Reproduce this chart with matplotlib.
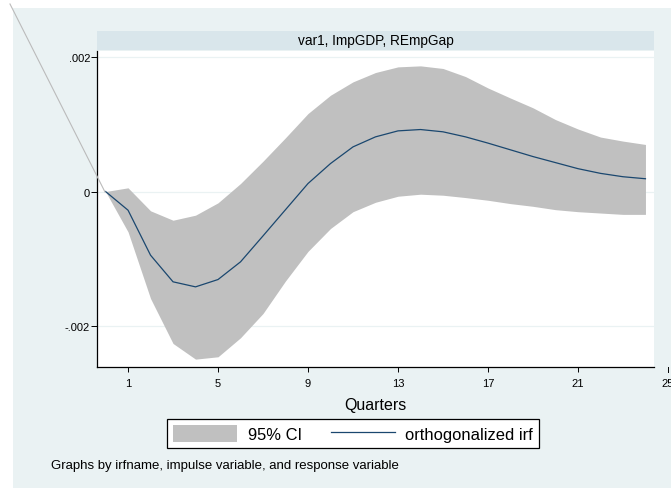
import matplotlib
matplotlib.use("Agg")
import matplotlib.pyplot as plt
from matplotlib.patches import Rectangle
from matplotlib.lines import Line2D

plt.rcParams['font.family'] = ['Liberation Sans', 'DejaVu Sans']

# Data
steps = list(range(0, 25))
irf = [0.0, -0.000278, -0.000947, -0.001343, -0.001418, -0.001309, -0.001046,
       -0.00066, -0.00027, 0.000119, 0.000416, 0.000664, 0.000813, 0.000902,
       0.000922, 0.000888, 0.000813, 0.00072, 0.00062, 0.00052, 0.00043,
       0.00034, 0.00027, 0.00022, 0.00019]
upper = [0.0, 0.000055, -0.000287, -0.000427, -0.000352, -0.000168, 0.000119,
         0.000451, 0.00080, 0.00116, 0.001432, 0.001631, 0.00177, 0.001854,
         0.001869, 0.00183, 0.00171, 0.00154, 0.00139, 0.001245, 0.00107,
         0.00093, 0.00081, 0.00075, 0.00070]
lower = [0.0, -0.000600, -0.001591, -0.00226, -0.002493, -0.002458, -0.002175,
         -0.001814, -0.00133, -0.00089, -0.00055, -0.00030, -0.00016, -0.00007,
         -0.00004, -0.000055, -0.00009, -0.00013, -0.00018, -0.00022, -0.00027,
         -0.00030, -0.00032, -0.00034, -0.00034]
xticks = [1, 5, 9, 13, 17, 21]
yticks = [-0.002, 0.0, 0.002]
ytick_labels = ['-.002', '0', '.002']
panel_title = 'var1, ImpGDP, REmpGap'
xlabel = 'Quarters'
note = 'Graphs by irfname, impulse variable, and response variable'

W, H = 671, 489
fig = plt.figure(figsize=(W / 100, H / 100), dpi=100, facecolor='white')

BG = '#EAF2F3'
fig.add_artist(Rectangle((13 / W, 0), 1 - 13 / W, (H - 9) / H,
                         transform=fig.transFigure, facecolor=BG,
                         edgecolor='none', zorder=0))

L, R, T, B = 97, 654, 52, 368
ax = fig.add_axes([L / W, 1 - B / H, (R - L) / W, (B - T) / H])
ax.set_facecolor('white')
ax.set_xlim(-0.38, 24.38)
ax.set_ylim(-0.00261, 0.00209)

for yv in yticks:
    ax.axhline(yv, color=BG, lw=0.9, zorder=0.5)

ax.fill_between(steps, lower, upper, color='#C0C0C0', lw=0, zorder=1,
                label='95% CI')
ax.plot(steps, irf, color='#1A476F', lw=0.9, zorder=2,
        label='orthogonalized irf')

for s in ['top', 'right']:
    ax.spines[s].set_visible(False)
for s in ['left', 'bottom']:
    ax.spines[s].set_color('black')
    ax.spines[s].set_linewidth(0.9)

TICK_FS = 8
ax.set_xticks(xticks)
ax.set_xticklabels([str(v) for v in xticks], fontsize=TICK_FS)
ax.set_yticks(yticks)
ax.set_yticklabels(ytick_labels, fontsize=TICK_FS)
ax.tick_params(axis='x', length=3.6, width=0.7, pad=4)
ax.tick_params(axis='y', length=4.4, width=0.7, pad=0.6)

# tick "25" drawn beyond the plot region, as in the reference
ax.add_line(Line2D([25, 25], [0, -5 / 316], transform=ax.get_xaxis_transform(),
                   color='black', lw=0.7, clip_on=False))
ax.text(25, -(5 + 5.6) / 316, '25', transform=ax.get_xaxis_transform(),
        fontsize=TICK_FS, ha='center', va='top', clip_on=False)

ax.set_xlabel(xlabel, fontsize=11.5, labelpad=6.5)

# panel title strip
fig.add_artist(Rectangle((L / W, 1 - 51 / H), (R - L) / W, 19 / H,
                         transform=fig.transFigure, facecolor='#D9E6EB',
                         edgecolor='none', zorder=1))
fig.text((L + R) / 2 / W, 1 - 41.5 / H, panel_title, fontsize=9.8,
         ha='center', va='center')

# legend
leg = fig.legend(*ax.get_legend_handles_labels(), loc='center',
                 bbox_to_anchor=(353 / W, 1 - 434.5 / H), ncol=2,
                 fontsize=11.9, frameon=True, fancybox=False,
                 edgecolor='black', facecolor='white', framealpha=1,
                 handlelength=3.9, handleheight=1.16, handletextpad=0.62,
                 columnspacing=1.75, borderpad=0.38)
leg.get_frame().set_linewidth(0.9)

fig.text(51 / W, 1 - 466 / H, note, fontsize=9.5, ha='left', va='center')

# stray diagonal line present in the reference image
fig.add_artist(Line2D([10 / W, 105 / W], [1 - 5 / H, 1 - 193 / H],
                      transform=fig.transFigure, color='#BBBBBB', lw=0.8,
                      zorder=5))

fig.savefig('out.png', dpi=100, facecolor='white')
